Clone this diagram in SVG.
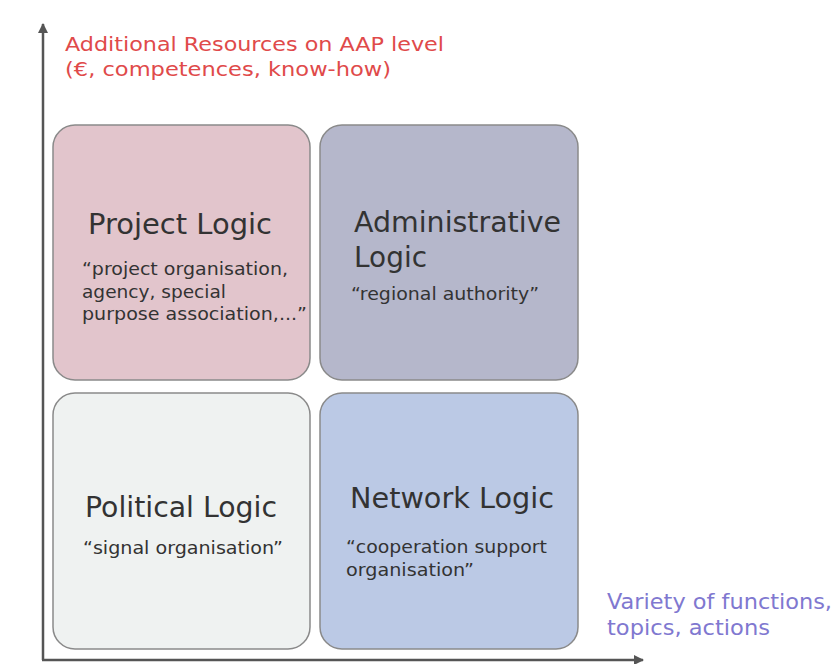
<svg xmlns="http://www.w3.org/2000/svg" width="834" height="664" viewBox="0 0 834 664">
<style>
.box{stroke:#8a8a8a;stroke-width:1.5}
.t{font-family:"DejaVu Sans",Verdana,sans-serif;fill:#333333}
.h{font-size:28px}
.q{font-size:18px}
.ax{stroke:#555555;stroke-width:2.5;fill:none}
.red{font-family:"DejaVu Sans",Verdana,sans-serif;font-size:20px;fill:#e04a4a}
.pur{font-family:"DejaVu Sans",Verdana,sans-serif;font-size:21px;fill:#8078d0}
</style>
<defs>
<marker id="ah" viewBox="0 0 10 10" refX="9" refY="5" markerWidth="5" markerHeight="4" orient="auto" markerUnits="strokeWidth">
<path d="M0,0 L10,5 L0,10 z" fill="#555555"/>
</marker>
</defs>
<rect width="834" height="664" fill="#ffffff"/>
<g id="connectors">
<line class="ax" x1="43" y1="660" x2="43" y2="24" marker-end="url(#ah)"/>
<line class="ax" x1="42" y1="660" x2="643" y2="660" marker-end="url(#ah)"/>
</g>
<g id="axis-y-label">
<text class="red" x="65" y="51" textLength="379" lengthAdjust="spacingAndGlyphs">Additional Resources on AAP level</text>
<text class="red" x="65" y="76" textLength="326" lengthAdjust="spacingAndGlyphs">(€, competences, know-how)</text>
</g>
<g id="axis-x-label">
<text class="pur" x="607" y="609" textLength="225" lengthAdjust="spacingAndGlyphs">Variety of functions,</text>
<text class="pur" x="607" y="635" textLength="163" lengthAdjust="spacingAndGlyphs">topics, actions</text>
</g>
<g id="project-logic">
<rect class="box" x="53" y="125" width="257" height="255" rx="22" fill="#e2c5cc"/>
<text class="t h" x="88" y="234" textLength="184" lengthAdjust="spacingAndGlyphs">Project Logic</text>
<text class="t q" x="82" y="275" textLength="206" lengthAdjust="spacingAndGlyphs">“project organisation,</text>
<text class="t q" x="82" y="298" textLength="144" lengthAdjust="spacingAndGlyphs">agency, special</text>
<text class="t q" x="82" y="320" textLength="225" lengthAdjust="spacingAndGlyphs">purpose association,...”</text>
</g>
<g id="administrative-logic">
<rect class="box" x="320" y="125" width="258" height="255" rx="22" fill="#b5b7cb"/>
<text class="t h" x="354" y="232" textLength="207" lengthAdjust="spacingAndGlyphs">Administrative</text>
<text class="t h" x="354" y="267" textLength="73" lengthAdjust="spacingAndGlyphs">Logic</text>
<text class="t q" x="351" y="300" textLength="188" lengthAdjust="spacingAndGlyphs">“regional authority”</text>
</g>
<g id="political-logic">
<rect class="box" x="53" y="393" width="257" height="256" rx="22" fill="#eff2f1"/>
<text class="t h" x="85" y="517" textLength="192" lengthAdjust="spacingAndGlyphs">Political Logic</text>
<text class="t q" x="83" y="554" textLength="200" lengthAdjust="spacingAndGlyphs">“signal organisation”</text>
</g>
<g id="network-logic">
<rect class="box" x="320" y="393" width="258" height="256" rx="22" fill="#bbc9e5"/>
<text class="t h" x="350" y="508" textLength="204" lengthAdjust="spacingAndGlyphs">Network Logic</text>
<text class="t q" x="346" y="553" textLength="201" lengthAdjust="spacingAndGlyphs">“cooperation support</text>
<text class="t q" x="346" y="576" textLength="128" lengthAdjust="spacingAndGlyphs">organisation”</text>
</g>
</svg>
